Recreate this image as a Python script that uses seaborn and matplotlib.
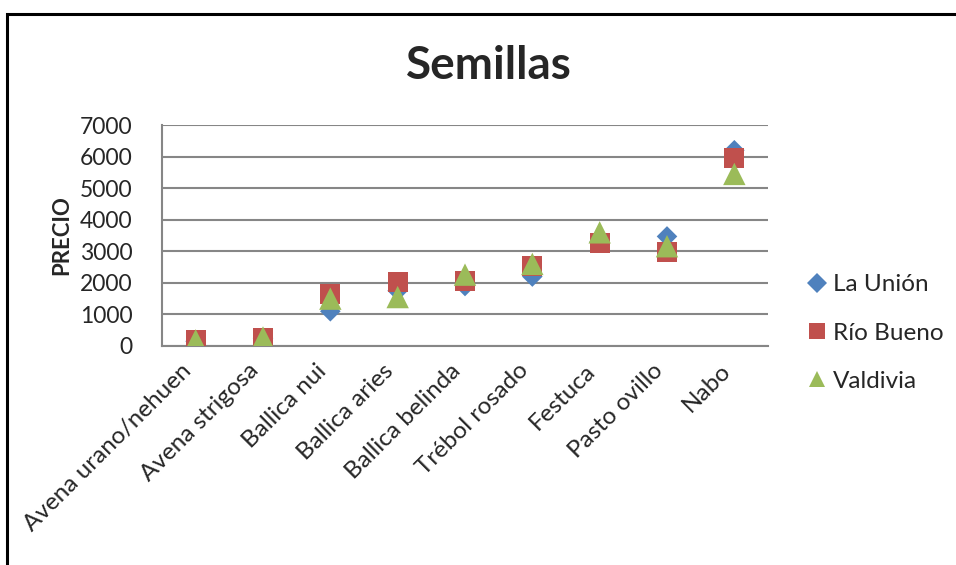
import matplotlib
matplotlib.use("Agg")
import matplotlib.pyplot as plt
import seaborn as sns
import pandas as pd
from matplotlib.patches import Rectangle
from matplotlib.lines import Line2D

# --- datos ---
semillas = ["Avena urano/nehuen", "Avena strigosa", "Ballica nui", "Ballica aries",
            "Ballica belinda", "Trébol rosado", "Festuca", "Pasto ovillo", "Nabo"]
la_union = [150, 250, 1100, 1750, 1900, 2200, 3300, 3470, 6200]
rio_bueno = [180, 250, 1650, 2030, 2050, 2530, 3260, 2970, 5950]
valdivia = [180, 270, 1500, 1550, 2260, 2600, 3600, 3160, 5450]
zonas = ["La Unión", "Río Bueno", "Valdivia"]
colores = {"La Unión": "#4F81BD", "Río Bueno": "#C0504D", "Valdivia": "#9BBB59"}
marcadores = {"La Unión": "D", "Río Bueno": "s", "Valdivia": "^"}
tamanos = {"La Unión": 110, "Río Bueno": 210, "Valdivia": 260}

df = pd.DataFrame({
    "Semilla": semillas * 3,
    "Precio": la_union + rio_bueno + valdivia,
    "Zona": [z for z in zonas for _ in semillas],
})

sns.set_style("white")
plt.rcParams["font.family"] = ["Lato", "DejaVu Sans"]

fig = plt.figure(figsize=(9.56, 5.65), dpi=100)
ax = fig.add_axes([162 / 956, 1 - 346 / 565, (768 - 162) / 956, (346 - 125) / 565])

sns.scatterplot(data=df, x="Semilla", y="Precio", hue="Zona", style="Zona",
                size="Zona", palette=colores, markers=marcadores, sizes=tamanos,
                linewidth=0, alpha=1, ax=ax, legend=False, zorder=3)

ax.set_xlim(-0.5, len(semillas) - 0.5)
ax.set_ylim(0, 7000)
ax.set_yticks(range(0, 7001, 1000))
ax.yaxis.grid(True, color="#868686", linewidth=1.5)
ax.set_axisbelow(True)
for lado in ["top", "right"]:
    ax.spines[lado].set_visible(False)
for lado in ["left", "bottom"]:
    ax.spines[lado].set_color("#868686")
    ax.spines[lado].set_linewidth(1.5)

ax.tick_params(axis="y", labelsize=16.5, length=4, color="#868686", pad=17)
ax.tick_params(axis="x", labelsize=17.5, length=0, pad=10)
plt.setp(ax.get_xticklabels(), rotation=45, ha="right", va="top")
ax.set_xlabel("")
ax.set_ylabel("PRECIO", fontsize=16, fontweight="bold", labelpad=6)

fig.text(489 / 956, 1 - 66 / 565, "Semillas", fontsize=33, fontweight="bold",
         ha="center", va="center")

# leyenda
handles = [Line2D([], [], linestyle="", marker=marcadores[z], color=colores[z],
                  markersize=12 if z != "La Unión" else 10, markeredgewidth=0)
           for z in zonas]
fig.legend(handles, zonas, loc="center left", bbox_to_anchor=(798 / 956, 1 - 333 / 565),
           frameon=False, fontsize=17.5, labelspacing=1.12, handlelength=0.8,
           handletextpad=0.25, borderaxespad=0)

# borde del gráfico
fig.patches.append(Rectangle((7 / 956, -0.1), 1.1, 1 - 14 / 565 + 0.1,
                             transform=fig.transFigure, fill=False,
                             edgecolor="black", linewidth=2.2))

fig.savefig("out.png", dpi=100)
